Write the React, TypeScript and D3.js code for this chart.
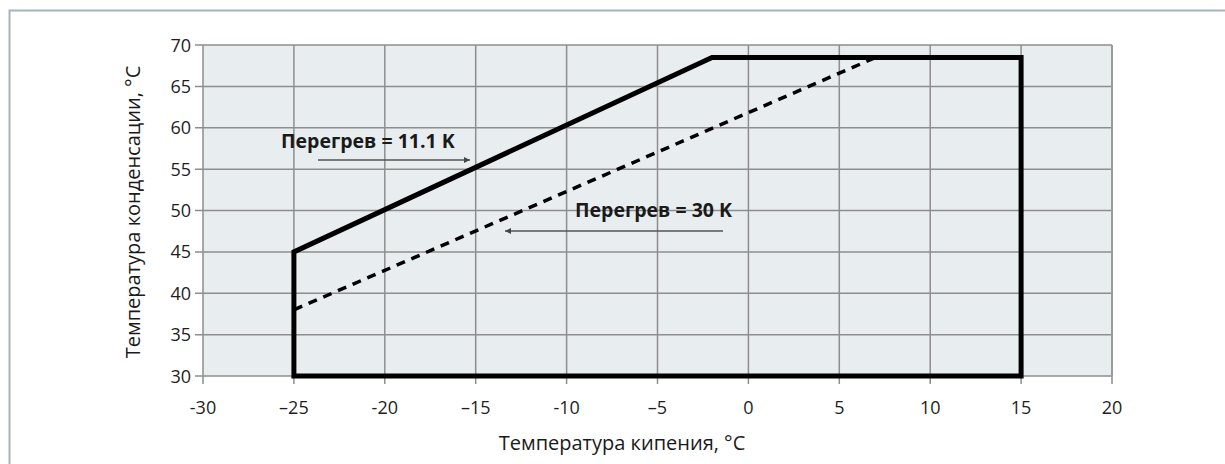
import React from "react";
import * as d3 from "d3";

const xTicks = [-30, -25, -20, -15, -10, -5, 0, 5, 10, 15, 20];
const xTickLabels = ["-30", "–25", "-20", "–15", "-10", "–5", "0", "5", "10", "15", "20"];
const yTicks = [30, 35, 40, 45, 50, 55, 60, 65, 70];

// Operating envelope, superheat 11.1 K
const envX = [-25, -25, -2, 15, 15, -25];
const envY = [30, 45, 68.5, 68.5, 30, 30];

// Superheat 30 K limit (dashed)
const dashX = [-25, 7];
const dashY = [38, 68.5];

const labels = ["Перегрев = 11.1 K", "Перегрев = 30 K"];
const xTitle = "Температура кипения, °C";
const yTitle = "Температура конденсации, °C";

const W = 1225;
const H = 464;
const left = 203;
const right = 1112;
const top = 45;
const bottom = 376;

export default function App() {
  const x = d3.scaleLinear().domain([-30, 20]).range([left, right]);
  const y = d3.scaleLinear().domain([30, 70]).range([bottom, top]);
  const line = d3
    .line<number>()
    .x((_, i) => x(envX[i]))
    .y((_, i) => y(envY[i]));
  const envPath = line(envX) + "Z";
  const dashPath = d3
    .line<number>()
    .x((_, i) => x(dashX[i]))
    .y((_, i) => y(dashY[i]))(dashX);

  const font = "'Open Sans', 'Noto Sans', sans-serif";
  const gridColor = "#8e8e8e";

  return (
    <svg
      width={W}
      height={H}
      style={{ position: "absolute", left: 0, top: 0, background: "#fff" }}
      fontFamily={font}
    >
      <defs>
        <marker
          id="ah"
          viewBox="0 0 10 10"
          refX="10"
          refY="5"
          markerWidth="9"
          markerHeight="6"
          markerUnits="userSpaceOnUse"
          orient="auto"
        >
          <path d="M0,0 L10,5 L0,10 Z" fill="#444" />
        </marker>
      </defs>
      <rect x={9.5} y={10.5} width={1240} height={480} fill="none" stroke="#a7b3bb" strokeWidth={2} />
      <rect x={left} y={top} width={right - left} height={bottom - top} fill="#e8edf0" />
      {xTicks.map((t) => (
        <line key={"gx" + t} x1={x(t)} x2={x(t)} y1={top} y2={bottom + 8} stroke={gridColor} strokeWidth={1.5} />
      ))}
      {yTicks.map((t) => (
        <line key={"gy" + t} x1={left - 8} x2={right} y1={y(t)} y2={y(t)} stroke={gridColor} strokeWidth={1.5} />
      ))}
      <line x1={right} x2={right} y1={top} y2={bottom} stroke="#9a9a9a" strokeWidth={2} />
      {xTicks.map((t, i) => (
        <text key={"tx" + t} x={x(t)} y={bottom + 38} textAnchor="middle" fontSize={18} fill="#1e1e1e">
          {xTickLabels[i]}
        </text>
      ))}
      {yTicks.map((t) => (
        <text key={"ty" + t} x={left - 12} y={y(t) + 6.5} textAnchor="end" fontSize={18} fill="#1e1e1e">
          {t}
        </text>
      ))}
      <path d={dashPath || ""} fill="none" stroke="#000" strokeWidth={3.5} strokeDasharray="9,7" />
      <path d={envPath} fill="none" stroke="#000" strokeWidth={5} strokeLinejoin="miter" />
      <text x={281} y={148} fontSize={19.5} fontWeight="bold" fill="#1a1a1a">
        {labels[0]}
      </text>
      <line x1={318} x2={470} y1={160} y2={160} stroke="#555" strokeWidth={1.3} markerEnd="url(#ah)" />
      <text x={575} y={217} fontSize={19.5} fontWeight="bold" fill="#1a1a1a">
        {labels[1]}
      </text>
      <line x1={723} x2={505} y1={231} y2={231} stroke="#555" strokeWidth={1.3} markerEnd="url(#ah)" />
      <text x={622} y={450} textAnchor="middle" fontSize={20} fill="#1a1a1a">
        {xTitle}
      </text>
      <text
        transform={`translate(140, 212) rotate(-90)`}
        textAnchor="middle"
        fontSize={20}
        fill="#1a1a1a"
      >
        {yTitle}
      </text>
    </svg>
  );
}
